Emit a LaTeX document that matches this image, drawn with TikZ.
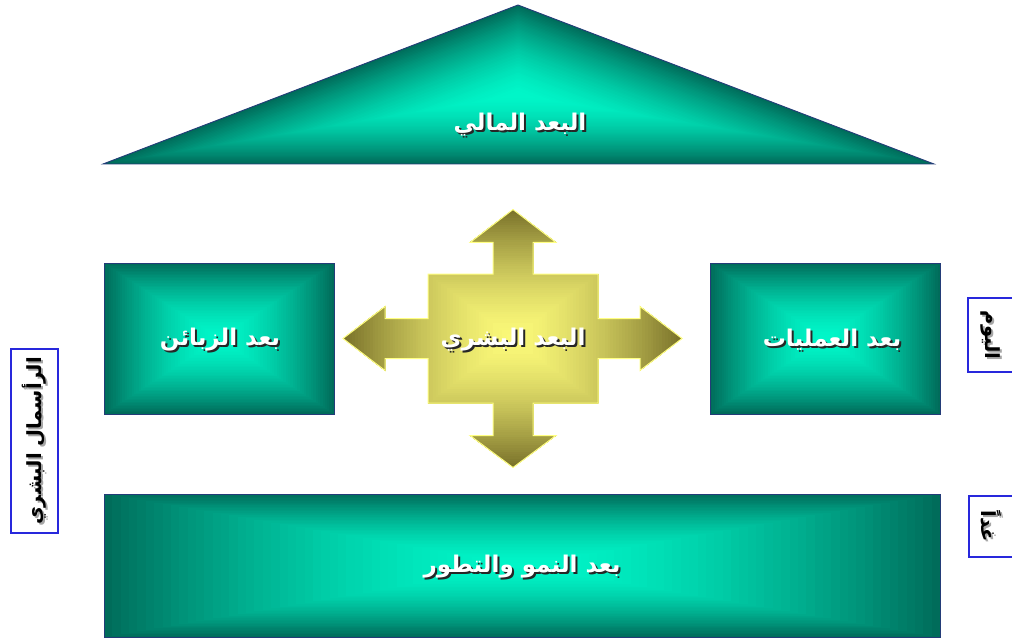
\documentclass[tikz,border=0pt]{standalone}
\usepackage{fontspec}
\newfontfamily\arabicfont[Script=Arabic]{DejaVu Sans}
\TeXXeTstate=1

\definecolor{tealdark}{RGB}{0,108,90}
\definecolor{tealbright}{RGB}{0,246,200}
\definecolor{olivedark}{RGB}{118,110,40}
\definecolor{olivebright}{RGB}{250,248,120}
\definecolor{edgeblue}{RGB}{35,60,120}
\definecolor{sideblue}{RGB}{40,40,220}
\definecolor{crossedge}{RGB}{255,255,130}

% teal rectangle shaded from its centre outwards
\newcommand\tealpanel[4]{%
  \pgfmathsetmacro\pcx{(#1+#3)/2}%
  \pgfmathsetmacro\pcy{(#2+#4)/2}%
  \pgfmathsetmacro\phw{(#3-#1)/2}%
  \pgfmathsetmacro\phh{(#4-#2)/2}%
  \foreach \k in {50,49,...,1}{%
    \pgfmathsetmacro\psc{\k/50}%
    \pgfmathtruncatemacro\pmix{100*\psc^1.6}%
    \fill[tealdark!\pmix!tealbright] (\pcx-\psc*\phw,\pcy-\psc*\phh) rectangle (\pcx+\psc*\phw,\pcy+\psc*\phh);
  }%
  \draw[tealedge] (#1,#2) rectangle (#3,#4);
}

% outline of the four-way arrow, relative to its centre
\newcommand\crossoutline{(0,-129) -- (43,-96) -- (20,-96) -- (20,-64.5) -- (85,-64.5) -- (85,-20) -- (127,-20) -- (127,-32) -- (169,0) -- (127,32) -- (127,20) -- (85,20) -- (85,64.5) -- (20,64.5) -- (20,97) -- (43,97) -- (0,129) -- (-43,97) -- (-20,97) -- (-20,64.5) -- (-85,64.5) -- (-85,20) -- (-128,20) -- (-128,32) -- (-170,0) -- (-128,-32) -- (-128,-20) -- (-85,-20) -- (-85,-64.5) -- (-20,-64.5) -- (-20,-96) -- (-43,-96) -- cycle}

\begin{document}
\begin{tikzpicture}[x=1pt,y=-1pt,
  tealedge/.style={draw=edgeblue, line width=0.9pt},
  dimlabel/.style={font=\arabicfont\bfseries\fontsize{23}{27}\selectfont, text=white, inner sep=0pt},
  dimshadow/.style={dimlabel, text=black!85},
  sidelabel/.style={font=\arabicfont\bfseries\fontsize{19.5}{23}\selectfont, text=black, inner sep=0pt},
  sideshadow/.style={sidelabel, text=black!35},
  sidebox/.style={draw=sideblue, line width=1.2pt, fill=white},
]
\useasboundingbox (0,0) rectangle (1012,639);
\clip (0,0) rectangle (1012,639);

% financial dimension: roof triangle
\foreach \k in {60,59,...,1}{%
  \pgfmathsetmacro\psc{\k/60}%
  \pgfmathtruncatemacro\pmix{100*\psc^1.6}%
  \begin{scope}[shift={(518,95)}, scale=\psc]
    \fill[tealdark!\pmix!tealbright] (0,-90) -- (-415,69) -- (416,69) -- cycle;
  \end{scope}
}
\draw[tealedge] (518,5) -- (103,164) -- (934,164) -- cycle;

% customers, operations, growth panels
\tealpanel{104}{263}{334}{414}
\tealpanel{710}{263}{940}{414}
\tealpanel{104}{494}{940}{637}

% human dimension: four-way arrow, shaded inside its own outline
\begin{scope}[shift={(513,338.5)}]
  \clip \crossoutline;
  \foreach \k in {60,59,...,1}{%
    \pgfmathsetmacro\psc{\k/60}%
    \pgfmathtruncatemacro\pmix{100*\psc^1.5}%
    \begin{scope}[scale=\psc]
      \fill[olivedark!\pmix!olivebright] (-172,-131) rectangle (172,131);
    \end{scope}
  }
\end{scope}
\begin{scope}[shift={(513,338.5)}]
  \draw[crossedge, line width=1pt] \crossoutline;
\end{scope}

% labels with drop shadows
\node[dimshadow] at (522,127) {\beginR البعد المالي\endR};
\node[dimlabel] (fin) at (520,125) {\beginR البعد المالي\endR};
\node[dimshadow] at (222,342) {\beginR بعد الزبائن\endR};
\node[dimlabel] (cust) at (220,340) {\beginR بعد الزبائن\endR};
\node[dimshadow] at (834,342) {\beginR بعد العمليات\endR};
\node[dimlabel] (ops) at (832,340) {\beginR بعد العمليات\endR};
\node[dimshadow] at (515,342) {\beginR البعد البشري\endR};
\node[dimlabel] (hum) at (513,340) {\beginR البعد البشري\endR};
\node[dimshadow] at (524,569) {\beginR بعد النمو والتطور\endR};
\node[dimlabel] (grow) at (522,567) {\beginR بعد النمو والتطور\endR};

% side captions
\draw[sidebox] (11,349) rectangle (58,533);
\node[sideshadow, rotate=90] at (36,443) {\beginR الرأسمال البشري\endR};
\node[sidelabel, rotate=90] (cap) at (34,441) {\beginR الرأسمال البشري\endR};

\draw[sidebox] (968,298) rectangle (1020,372);
\node[sideshadow, rotate=-90] at (993,337) {\beginR اليوم\endR};
\node[sidelabel, rotate=-90] (today) at (991,335) {\beginR اليوم\endR};

\draw[sidebox] (969,496) rectangle (1020,557);
\node[sideshadow, rotate=-90] at (993,528) {\beginR غداً\endR};
\node[sidelabel, rotate=-90] (tomorrow) at (991,526) {\beginR غداً\endR};
\end{tikzpicture}
\end{document}
